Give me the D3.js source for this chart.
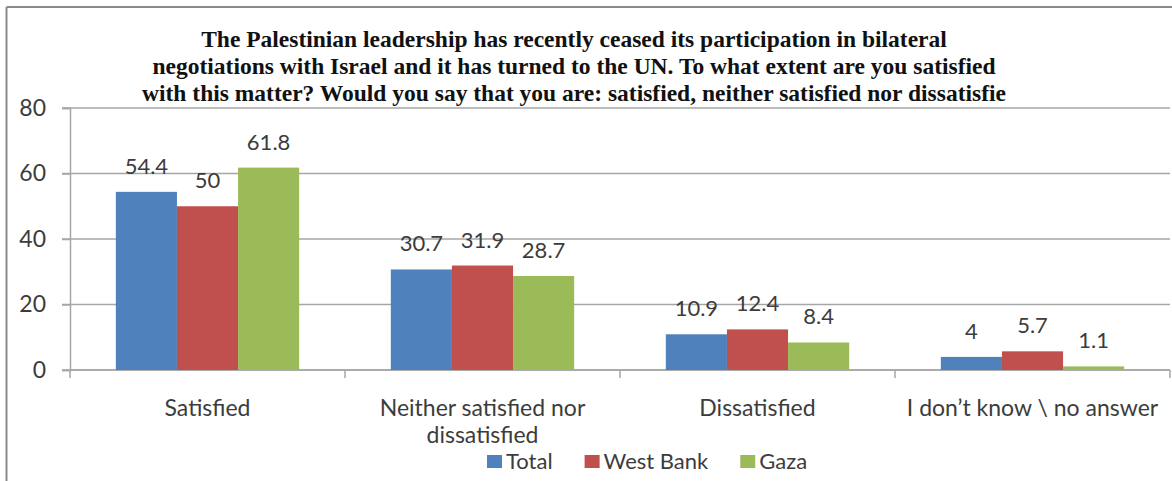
<!DOCTYPE html>
<html><head><meta charset="utf-8">
<script src="https://cdn.jsdelivr.net/npm/d3@7"></script>
<style>body{margin:0;background:#fff}svg{display:block}</style>
</head><body>
<svg id="c" width="1172" height="481"></svg>
<script>
const categories = ["Satisfied", "Neither satisfied nor dissatisfied", "Dissatisfied", "I don\u2019t know \\ no answer"];
const seriesNames = ["Total", "West Bank", "Gaza"];
const totalVals = [54.4, 30.7, 10.9, 4];
const westBankVals = [50, 31.9, 12.4, 5.7];
const gazaVals = [61.8, 28.7, 8.4, 1.1];
const yTicks = [0, 20, 40, 60, 80];
const titleLines = [
  "The Palestinian leadership has recently ceased its participation in bilateral",
  "negotiations with Israel and it has turned to the UN. To what extent are you satisfied",
  "with this matter? Would you say that you are: satisfied, neither satisfied nor dissatisfie"
];
const colors = ["#4F81BD", "#C0504D", "#9BBB59"];
const seriesVals = [totalVals, westBankVals, gazaVals];

const svg = d3.select("#c");
const txt = "#3c3c3c";
const font = "Lato, 'Open Sans', sans-serif";

// frame
svg.append("line").attr("x1",6.5).attr("x2",1172).attr("y1",7).attr("y2",7).attr("stroke","#8a8a8a").attr("stroke-width",2);
svg.append("line").attr("x1",6.5).attr("x2",6.5).attr("y1",7).attr("y2",481).attr("stroke","#8a8a8a").attr("stroke-width",2);

const x = d3.scaleBand().domain(categories).range([70, 1170]);
const x1 = d3.scaleBand().domain(seriesNames).range([0, x.bandwidth()]).paddingOuter(0.75);
const y = d3.scaleLinear().domain([0, 80]).range([370, 108]);

// gridlines
svg.append("g").selectAll("line").data(yTicks).join("line")
  .attr("x1", 62).attr("x2", 1170).attr("y1", d => y(d)).attr("y2", d => y(d))
  .attr("stroke", "#a6a6a6").attr("stroke-width", 1.5);

// y axis
const ya = svg.append("g").attr("transform","translate(70,0)")
  .call(d3.axisLeft(y).tickValues(yTicks).tickSize(8).tickPadding(16));
ya.select(".domain").attr("stroke","#a6a6a6").attr("stroke-width",1.5);
ya.selectAll(".tick line").attr("stroke","#a6a6a6").attr("stroke-width",1.5);
ya.selectAll("text").attr("font-family",font).attr("font-size",23).attr("fill",txt);

// x axis baseline ticks
const xTickPos = categories.map(c => x(c)).concat([x.range()[1]]);
svg.append("line").attr("x1",70).attr("x2",1170).attr("y1",y(0)).attr("y2",y(0)).attr("stroke","#a6a6a6").attr("stroke-width",1.5);
svg.append("g").selectAll("line").data(xTickPos).join("line")
  .attr("x1", d=>d).attr("x2", d=>d).attr("y1", y(0)).attr("y2", y(0)+8)
  .attr("stroke","#a6a6a6").attr("stroke-width",1.5);

// bars
const groups = svg.append("g").selectAll("g").data(categories).join("g")
  .attr("transform", c => `translate(${x(c)},0)`);
groups.each(function(c, ci){
  const g = d3.select(this);
  seriesNames.forEach((s, si) => {
    const v = seriesVals[si][ci];
    g.append("rect").attr("x", x1(s)).attr("width", x1.bandwidth())
      .attr("y", y(v)).attr("height", y(0) - y(v)).attr("fill", colors[si]);
    g.append("text").attr("x", x1(s) + x1.bandwidth()/2).attr("y", y(v) - 18)
      .attr("text-anchor","middle").attr("font-family",font).attr("font-size",22)
      .attr("fill",txt).text(v);
  });
});

// category labels
const catLines = {"Neither satisfied nor dissatisfied": ["Neither satisfied nor", "dissatisfied"]};
categories.forEach(c => {
  const lines = catLines[c] || [c];
  lines.forEach((l, i) => {
    svg.append("text").attr("x", x(c) + x.bandwidth()/2).attr("y", 416 + i*27)
      .attr("text-anchor","middle").attr("font-family",font).attr("font-size",23)
      .attr("fill",txt).text(l);
  });
});

// title
titleLines.forEach((l, i) => {
  svg.append("text").attr("x", 574).attr("y", 47 + i*27)
    .attr("text-anchor","middle").attr("font-family","'Liberation Serif', serif")
    .attr("font-weight","bold").attr("font-size",23.5).attr("fill","#111").text(l);
});

// legend
let lx = 487;
seriesNames.forEach((s, i) => {
  svg.append("rect").attr("x", lx).attr("y", 455).attr("width", 15).attr("height", 13).attr("fill", colors[i]);
  const t = svg.append("text").attr("x", lx + 19).attr("y", 469).attr("font-family",font)
    .attr("font-size",22).attr("fill",txt).text(s);
  lx += 19 + t.node().getComputedTextLength() + 32;
});
</script>
</body></html>
